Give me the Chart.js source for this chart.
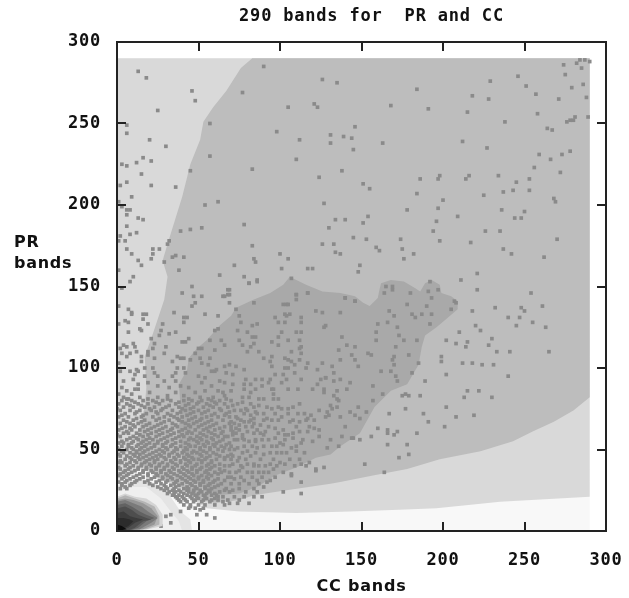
<!DOCTYPE html>
<html lang="en">
<head>
  <meta charset="UTF-8">
  <title>290 bands for PR and CC</title>
  <script src="https://cdn.jsdelivr.net/npm/chart.js"></script>
  <style>
    html, body { margin: 0; background: #fff; }
    #wrap { width: 629px; height: 598px; }
    #bands { filter: blur(0.55px); }
  </style>
</head>
<body>
  <div id="wrap"><canvas id="bands" width="629" height="598"></canvas></div>
  <script>
    const chartTitle = '290 bands for  PR and CC';
    const xAxisLabel = 'CC bands';
    const yAxisLabel = ['PR', 'bands'];
    const xTicks = [0, 50, 100, 150, 200, 250, 300];
    const yTicks = [0, 50, 100, 150, 200, 250, 300];

    // contour outlines, [CC, PR]
    const baseArea = [[0,0],[290,0],[290,290],[0,290]];
    const lightArea = [[0,290],[290,290],[290,21],[235,18],[196,14],[173,13],[143,12],[110,11],[75,12],[55,14],[45,20],[35,27],[27,33],[15,38],[0,30]];
    const midArea = [[83,290],[290,290],[290,82],[280,74],[268,67],[255,61],[243,55],[223,49],[198,44],[178,38],[157,34],[137,30],[131,29],[104,25],[84,22],[75,19],[60,17],[52,19],[45,22],[38,28],[25,33],[14,42],[13,60],[17,76],[18,88],[17,107],[22,121],[29,142],[31,156],[28,166],[31,176],[35,189],[40,205],[43,217],[45,225],[51,240],[53,251],[59,260],[67,270],[76,284]];
    const darkArea = [[106,156],[102,151],[94,146],[84,142],[73,137],[70,132],[63,126],[55,117],[49,112],[44,106],[43,99],[38,90],[39,76],[38,64],[40,45],[48,30],[60,22],[75,23],[86,27],[92,31],[97,34],[110,39],[122,45],[131,47],[137,52],[143,56],[149,60],[158,76],[168,86],[178,90],[185,102],[187,113],[189,120],[196,125],[202,130],[209,136],[209,141],[205,144],[199,146],[198,151],[193,154],[189,152],[186,147],[183,149],[176,153],[168,154],[162,152],[161,148],[160,143],[155,138],[151,140],[146,144],[137,146],[126,147],[116,151],[110,154]];
    const haloOuter = [[0,28],[7,31],[15,32],[24,29],[30,25],[35,18],[39,12],[45,7],[46,0],[0,0]];
    const haloInner = [[0,24],[8,27],[18,27],[27,20],[33,12],[38,6],[40,0],[0,0]];
    const coreLayerA = [[0,21],[5,23],[11,21],[18,20],[24,16],[28,10],[28,3],[19,1],[0,0]];
    const coreLayerB = [[0,20],[5,22],[11,20],[17,18],[23,15],[26,9],[26,4],[18,1],[0,0]];
    const coreLayerC = [[0,19],[5,20],[10,19],[16,17],[21,14],[25,9],[23,4],[16,1],[0,0]];
    const coreLayerD = [[0,18],[5,19],[10,17],[15,15],[19,12],[25,8],[21,5],[14,1],[0,0]];
    const coreLayerE = [[0,16],[5,17],[9,15],[14,12],[18,10],[23,8],[18,6],[13,2],[7,0],[0,0]];
    const coreLayerF = [[0,14],[5,15],[9,13],[13,10],[18,8],[21,7],[16,6],[11,2],[6,0],[0,0]];
    const coreLayerG = [[0,11],[4,12],[8,9],[12,8],[16,7],[11,5],[7,2],[0,0]];
    const coreLayerH = [[0,8],[4,8],[8,7],[10,6],[7,3],[3,1],[0,0]];
    const coreBlack = [[0,4],[3,3],[6,1],[0,0]];

    // grid points, [CC, PR]
    const upperRightPoints = [[126,277],[135,275],[184,271],[168,261],[191,259],[218,267],[228,265],[229,276],[246,279],[251,273],[257,268],[274,286],[275,280],[279,272],[282,287],[284,289],[287,289],[290,288],[285,284],[286,274],[288,266],[271,265],[215,257],[238,251],[258,256],[264,247],[267,246],[276,251],[278,252],[280,252],[281,254],[289,254],[146,248],[131,243],[139,242],[144,241],[131,238],[145,234],[163,238],[212,239],[227,235],[259,231],[266,228],[273,231],[278,233],[256,223],[272,220],[138,221],[186,216],[198,218],[197,216],[216,218],[214,216],[234,218],[245,214],[253,216],[151,213],[155,210],[184,207],[200,203],[225,206],[237,208],[243,209],[253,209],[268,204],[269,202],[127,201],[197,198],[178,197],[236,197],[250,196],[154,193],[209,193],[244,192],[248,192],[134,191],[140,191],[151,189],[196,190],[130,186],[194,184],[226,184],[235,184],[145,180],[153,179],[174,179],[198,178],[217,177],[270,179],[126,176],[133,176],[134,171],[137,170],[159,174],[161,172],[175,173],[182,170],[237,173],[242,170],[176,167],[262,168],[149,163],[148,159],[221,158],[211,154],[221,148],[254,146]];
    const upperLeftPoints = [[13,282],[18,278],[46,270],[48,264],[25,258],[6,249],[6,244],[20,240],[30,236],[16,229],[21,227],[3,225],[6,224],[12,226],[15,219],[6,214],[2,212],[21,212],[36,211],[9,205],[1,202],[3,199],[6,197],[8,197],[6,194],[13,192],[16,191],[6,187],[8,182],[12,183],[2,181],[5,178],[1,178],[6,173],[9,170],[13,166],[15,163],[1,160],[10,156],[8,153],[3,149],[90,285],[77,269],[57,250],[57,230],[45,221],[83,222],[98,245],[105,260],[121,262],[123,260],[112,240],[110,228],[124,217],[54,200],[62,202],[78,188],[52,186],[45,185],[39,184],[32,178],[31,176],[22,173],[26,173],[22,170],[21,167],[34,168],[36,169],[41,168],[29,165],[38,160],[83,175],[84,167],[85,165],[72,163],[100,170],[105,167],[101,161],[117,161],[120,161],[63,157],[78,156],[86,154],[81,152],[107,155],[46,150],[40,146],[68,148],[68,145],[65,144],[47,144],[52,144],[110,145],[117,146]];
    const lowerRightPoints = [[165,150],[169,150],[169,148],[180,146],[164,146],[191,147],[197,148],[192,153],[140,143],[146,141],[207,141],[208,140],[205,136],[218,135],[232,137],[248,137],[250,135],[261,138],[240,131],[247,131],[255,128],[245,126],[263,125],[220,126],[223,123],[210,122],[202,117],[208,115],[215,116],[214,113],[230,118],[228,114],[233,110],[241,110],[265,110],[199,104],[199,107],[212,103],[218,103],[224,102],[231,102],[202,96],[240,95],[189,92],[215,86],[222,86],[213,82],[230,82],[175,83],[177,84],[179,83],[186,83],[202,76],[177,75],[167,72],[188,72],[208,70],[219,71],[191,67],[201,64],[160,63],[166,62],[166,60],[170,59],[172,61],[184,60],[156,58],[149,56],[145,57],[166,53],[178,53],[179,47],[173,45],[152,41],[164,36]];
    const upperDarkPoints = [[81,152],[86,153],[69,148],[69,145],[66,144],[69,140],[84,140],[110,145],[110,142],[117,146],[102,139],[104,139],[105,139],[73,136],[75,132],[76,128],[83,126],[86,127],[74,123],[80,122],[103,133],[104,132],[106,133],[97,131],[99,128],[103,128],[113,131],[113,128],[122,135],[126,134],[128,126],[127,125],[110,122],[113,122],[101,122],[99,119],[83,119],[85,119],[95,116],[75,117],[105,117],[112,117],[84,115],[82,113],[77,114],[66,114],[99,114],[113,113],[112,112],[80,110],[87,110],[107,110],[113,109],[90,106],[95,107],[94,104],[103,106],[105,105],[107,104],[112,105],[95,101],[66,101],[69,102],[73,101],[78,99],[103,100],[105,100],[117,103],[126,103],[116,100],[123,99],[109,102],[67,97],[71,96],[109,97],[97,96],[102,96],[79,93],[85,93],[89,93],[94,93],[104,93],[113,93],[125,93],[128,94],[66,91],[71,90],[78,90],[82,90],[89,89],[93,91],[101,91],[123,90],[120,87],[78,87],[85,87],[95,87],[96,87],[105,87],[111,87],[127,87],[70,86],[82,85],[96,84],[127,85],[65,85],[77,82],[81,82],[87,81],[90,81],[96,81],[99,81],[66,83],[140,143],[146,141],[137,134],[178,139],[167,135],[170,132],[181,133],[183,131],[187,133],[190,138],[193,133],[193,143],[166,128],[160,127],[172,125],[159,122],[173,120],[192,127],[176,117],[184,117],[159,117],[138,119],[141,114],[146,113],[171,113],[136,111],[154,109],[156,108],[144,108],[137,105],[146,105],[170,107],[169,105],[179,108],[185,103],[170,102],[148,101],[132,101],[168,98],[162,98],[133,97],[181,97],[171,95],[128,94],[133,92],[137,93],[172,92],[143,91],[157,89],[135,86],[141,87],[163,84],[133,83],[135,81],[136,80],[157,80],[131,77],[132,75],[135,76],[148,76],[129,73],[143,73],[153,73],[146,71],[149,69],[137,70],[130,71],[140,64],[138,58],[144,57],[131,56],[136,52]];
    const leftColumnPoints = [[1,138],[7,136],[9,134],[9,133],[5,129],[7,128],[1,127],[16,133],[18,133],[16,130],[19,127],[14,124],[15,123],[7,122],[48,140],[46,138],[35,134],[41,131],[43,131],[54,133],[62,132],[41,128],[28,127],[27,123],[36,122],[32,121],[26,120],[62,124],[60,123],[21,118],[40,116],[42,116],[44,118],[57,117],[64,117],[48,109],[50,112],[52,112],[4,114],[6,113],[10,115],[11,113],[2,112],[12,110],[8,109],[6,107],[3,109],[30,113],[29,109],[23,115],[19,110],[22,112],[19,108],[37,107],[39,106],[41,106],[34,104],[45,105],[51,106],[57,106],[60,111],[15,107],[15,104],[23,106],[52,103],[56,102],[1,103],[17,100],[22,100],[37,100],[41,100],[60,98],[12,99],[13,98],[11,96],[8,98],[2,98],[23,97],[36,97],[34,95],[42,97],[50,95],[54,94],[58,98],[61,99],[4,92],[10,93],[17,95],[25,95],[29,92],[36,92],[52,91],[63,92],[19,91],[13,90],[11,87],[3,88],[6,86],[25,89],[32,88],[39,89],[44,88],[58,89],[1,84],[9,84],[13,87],[20,85],[36,85],[48,85],[54,86],[62,86],[4,82],[7,81],[14,82],[25,82],[31,83],[41,83],[51,82],[59,82]];
    const lowerMidPoints = [[112,78],[101,75],[105,75],[95,75],[76,74],[90,72],[111,72],[119,71],[117,69],[124,74],[101,70],[95,68],[112,67],[106,67],[121,68],[128,70],[84,69],[78,67],[73,70],[67,72],[69,66],[88,65],[97,63],[102,62],[91,61],[105,59],[103,59],[121,63],[124,62],[117,61],[112,61],[84,60],[77,59],[71,61],[66,58],[124,58],[120,55],[108,57],[97,57],[89,56],[81,55],[74,56],[69,54],[100,54],[102,53],[95,52],[107,51],[113,54],[86,51],[78,52],[72,50],[66,51],[110,49],[104,48],[98,48],[90,47],[82,46],[75,45],[68,46],[129,51],[118,42],[100,42],[103,41],[113,41],[94,41],[87,40],[80,41],[71,41],[66,40],[127,39],[122,38],[122,37],[116,40],[107,35],[107,34],[96,38],[90,36],[83,36],[75,37],[69,36],[64,36],[113,30],[94,31],[92,30],[97,33],[86,31],[78,31],[72,32],[66,31],[90,27],[102,24],[84,26],[75,26],[71,25],[67,26],[89,21],[113,23],[81,17],[74,17],[69,17],[65,18],[66,16],[30,9],[33,10],[39,12],[49,10],[60,8],[27,3],[33,5],[51,13],[55,10],[45,15]];

    // the crowded part near the origin, one PR value with its CC values
    const crowdRows = [
      [81,[6,19,31,44,56,67]],
      [80,[3,9,16,22,28,33,41,46,52,58,63,70]],
      [79,[11,24,38,50,60,77]],
      [78,[1,6,13,19,26,36,44,49,55,61,66,74,82]],
      [77,[8,15,32,42,57,71,87]],
      [76,[4,10,17,23,30,38,47,53,59,68,84,92,99,108]],
      [75,[0,20,28,40,45,63,79]],
      [74,[2,8,14,21,27,34,42,50,56,64,72,80]],
      [73,[12,24,39,47,54,69,85]],
      [72,[5,11,18,25,31,37,45,52,60,78,86,97,105,115]],
      [71,[3,16,33,43,58,66,82]],
      [70,[1,7,15,22,29,35,40,48,55,62,69]],
      [69,[12,26,37,46,52,74,92]],
      [68,[4,10,17,24,32,38,44,51,58,65,76,90,82,99,108,116]],
      [67,[6,15,29,40,49,56,70,81]],
      [66,[2,8,13,20,27,34,42,47,54,61,72,84]],
      [65,[10,18,25,36,44,52,59,75]],
      [64,[5,11,16,23,30,37,45,50,57,66,79,70,83,93,110,118]],
      [63,[3,8,21,28,34,42,55,63,73]],
      [62,[1,9,14,19,26,33,40,48,53,60,70,75,86]],
      [61,[6,17,24,31,38,44,56,65,80]],
      [60,[4,7,12,21,28,35,43,46,51,58,64,73,88,99,108]],
      [59,[0,14,19,26,33,40,53,60,71,90]],
      [58,[2,10,16,24,31,38,41,49,55,62,68]],
      [57,[8,12,20,29,36,45,51,58,77]],
      [56,[6,13,18,22,27,34,44,47,52,59,65,72,78,85,93,103,114]],
      [55,[3,10,16,25,31,39,49,55,63,85]],
      [54,[1,4,9,15,20,25,30,36,42,50,56,61]],
      [53,[7,13,18,23,28,34,44,53,59,67]],
      [52,[3,7,12,17,23,28,33,39,45,48,54,60,64,70,83,90,98,110]],
      [51,[0,9,15,21,30,36,42,51,57,74]],
      [50,[1,6,10,14,19,26,31,37,43,51,57,62,69]],
      [49,[3,12,17,24,28,35,41,47,53,65,80]],
      [48,[4,8,12,16,22,29,34,40,46,49,55,59,77,85,94,101,115]],
      [47,[1,10,14,20,26,32,37,43,51,61,70]],
      [46,[2,6,11,18,24,27,32,38,44,52,57,63,71]],
      [45,[8,13,16,22,29,35,41,46,55,66]],
      [44,[5,9,14,20,25,30,36,42,47,50,54,61,66,70,79,88,96,106,112]],
      [43,[2,11,18,23,33,39,44,52,58,74]],
      [42,[1,3,8,12,17,23,28,34,39,45,52,58]],
      [41,[6,15,20,26,31,36,42,49,56,63,84]],
      [40,[5,10,15,21,26,31,37,43,48,55,60,69,76,84,91,98,109]],
      [39,[1,8,13,18,24,29,34,40,46,52,58,77]],
      [38,[2,7,13,18,24,29,35,41,46,51,57,63]],
      [37,[5,11,16,21,27,32,38,43,49,55,66]],
      [36,[4,9,16,22,27,33,39,44,49,54,60,73,80,87,93,102]],
      [35,[2,7,14,19,24,30,35,41,46,56,62]],
      [34,[1,6,12,19,25,31,37,42,47,52,58]],
      [33,[4,10,16,23,28,33,39,44,50,55,70,68,76,83,89]],
      [32,[3,8,14,21,28,34,40,45,50,56,62]],
      [31,[6,12,19,26,31,37,42,47,53,60]],
      [30,[1,5,11,17,24,30,36,43,48,53,59]],
      [29,[3,9,20,27,35,40,45,51,57,64,70,75,81,87]],
      [28,[3,8,22,29,33,38,46,51,56,62]],
      [27,[5,25,30,36,43,48,54,60]],
      [26,[2,6,27,31,35,41,44,49,54,58]],
      [25,[29,34,38,43,47,51,56,66]],
      [24,[32,36,39,44,47,52,57,63,69,79,86]],
      [23,[31,35,41,46,50,55,60]],
      [22,[34,38,43,48,53,58,61]],
      [21,[36,40,45,49,54,62,65,72,78,84]],
      [20,[37,41,46,50,55,60]],
      [19,[38,42,48,53,58,62,68,75]],
      [18,[39,43,47,52,57]],
      [16,[41,45,50,54,60]],
      [14,[44,48,53]]
    ];

    const crowdPoints = crowdRows.flatMap(([pr, ccs]) => ccs.map(cc => [cc, pr]));
    const gridPoints = [upperRightPoints, upperLeftPoints, lowerRightPoints, upperDarkPoints, leftColumnPoints, lowerMidPoints, crowdPoints].flat();

    function area(outline, color) {
      return {
        data: outline.map(([x, y]) => ({ x, y })),
        showLine: true,
        fill: 'shape',
        backgroundColor: color,
        borderWidth: 0,
        pointRadius: 0,
        tension: 0
      };
    }

    // bottom layer first
    const layers = [
      area(baseArea, '#f8f8f8'),
      area(lightArea, '#d9d9d9'),
      area(midArea, '#bdbdbd'),
      area(darkArea, '#a9a9a9'),
      area(haloOuter, '#e4e4e4'),
      area(haloInner, '#efefef'),
      {
        data: gridPoints.map(([x, y]) => ({ x, y })),
        pointStyle: 'rect',
        pointRadius: 2.6,
        pointBackgroundColor: '#8a8a8a',
        pointBorderWidth: 0
      },
      area(coreLayerA, '#d4d4d4'),
      area(coreLayerB, '#b4b4b4'),
      area(coreLayerC, '#969696'),
      area(coreLayerD, '#7a7a7a'),
      area(coreLayerE, '#626262'),
      area(coreLayerF, '#4e4e4e'),
      area(coreLayerG, '#3c3c3c'),
      area(coreLayerH, '#2c2c2c'),
      area(coreBlack, '#0c0c0c')
    ];
    layers.forEach((d, i) => { d.order = layers.length - i; });

    const frameColor = '#222';
    function frameAxis(position, ticks, size, showLabels, padding) {
      return {
        type: 'linear',
        position: position,
        min: 0,
        max: 300,
        border: { display: true, color: frameColor, width: 2, z: 1 },
        grid: { drawOnChartArea: false, drawTicks: true, tickLength: -9, color: frameColor, lineWidth: 2, z: 1 },
        ticks: {
          display: showLabels,
          padding: padding,
          maxRotation: 0,
          autoSkip: false,
          color: '#111',
          font: { family: '"DejaVu Sans Mono"', size: 17, weight: 'bold' }
        },
        afterBuildTicks: scale => { scale.ticks = ticks.map(value => ({ value })); },
        afterFit: scale => {
          if (position === 'top' || position === 'bottom') scale.height = size;
          else scale.width = size;
          scale.paddingLeft = scale.paddingRight = scale.paddingTop = scale.paddingBottom = 0;
        }
      };
    }

    const scales = {
      x: frameAxis('bottom', xTicks, 67, true, 28),
      x2: frameAxis('top', xTicks, 0, false, 0),
      y: frameAxis('left', yTicks, 117, true, 25),
      y2: frameAxis('right', yTicks, 23, false, 0)
    };
    scales.x.title = {
      display: true,
      text: xAxisLabel,
      color: '#111',
      padding: { top: 0, bottom: 2 },
      font: { family: '"DejaVu Sans"', size: 16, weight: 'bold' }
    };

    const gnuplotText = {
      id: 'gnuplotText',
      beforeDraw(chart) { chart.ctx.letterSpacing = '0.8px'; },
      afterLayout(chart) { chart.titleBlock.left += 114; },
      afterDraw(chart) {
        const ctx = chart.ctx;
        ctx.save();
        ctx.letterSpacing = '0.7px';
        ctx.fillStyle = '#111';
        ctx.font = 'bold 16px "DejaVu Sans"';
        ctx.textAlign = 'left';
        ctx.textBaseline = 'alphabetic';
        yAxisLabel.forEach((line, i) => ctx.fillText(line, 14, 247 + i * 21));
        ctx.restore();
      }
    };

    new Chart(document.getElementById('bands'), {
      type: 'scatter',
      data: { datasets: layers },
      plugins: [gnuplotText],
      options: {
        responsive: false,
        animation: false,
        layout: { padding: 0 },
        scales: scales,
        plugins: {
          legend: { display: false },
          tooltip: { enabled: false },
          title: {
            display: true,
            text: chartTitle,
            color: '#111',
            padding: { top: 6, bottom: 15.6 },
            font: { family: '"DejaVu Sans Mono"', size: 17, weight: 'bold' }
          }
        }
      }
    });
  </script>
</body>
</html>
